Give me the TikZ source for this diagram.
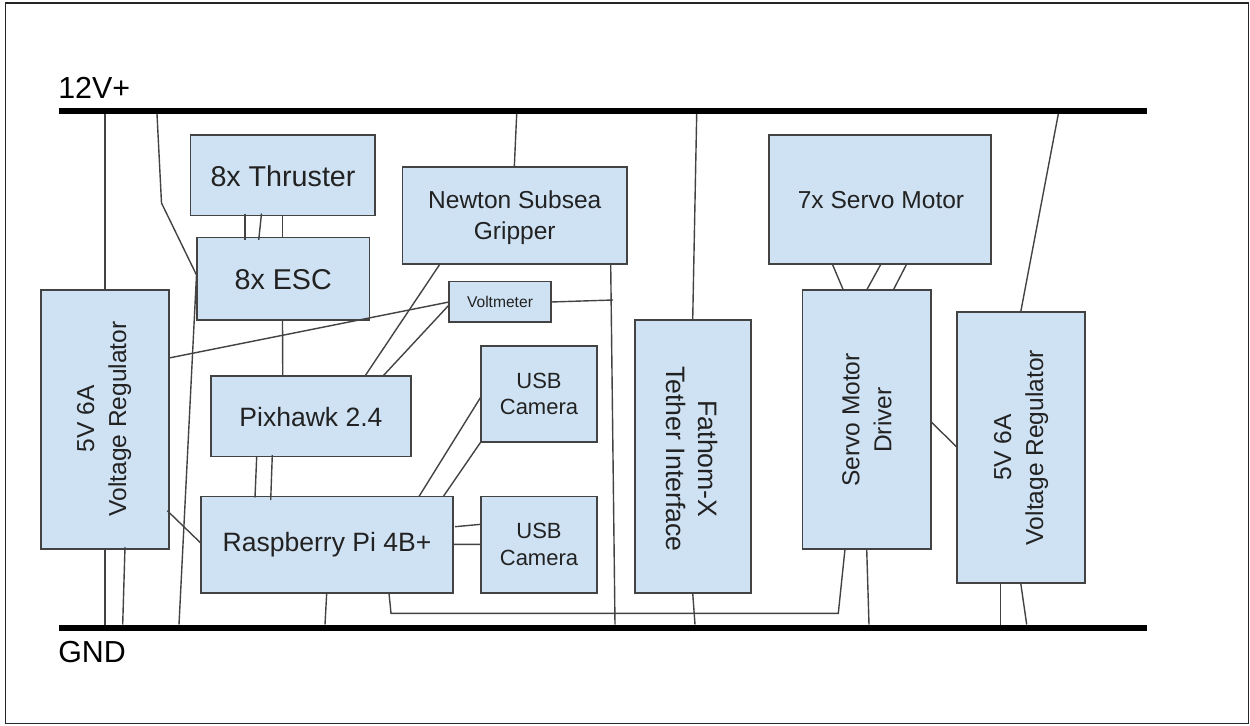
\documentclass[tikz,border=0pt]{standalone}
\usepackage{fontspec}
\setmainfont{Liberation Sans}
\usetikzlibrary{calc}
\definecolor{boxfill}{HTML}{CFE2F3}
\definecolor{edge}{HTML}{434343}
\definecolor{ink}{HTML}{222222}
\tikzset{
  bx/.style 2 args={draw=edge,fill=boxfill,line width=1.1pt,inner sep=0pt,outer sep=0pt,
    minimum width=#1*0.75pt,minimum height=#2*0.75pt,text=ink,align=center,font=\fontsize{18.4pt}{23pt}\selectfont},
  rail/.style 2 args={fill=black,inner sep=0pt,outer sep=0pt,minimum width=#1*0.75pt,minimum height=#2*0.75pt},
  wire/.style={draw=edge,line width=1.05pt},
  lab/.style={text=black,inner sep=0pt,font=\fontsize{22.8pt}{26pt}\selectfont},
  vtxt/.style={text=ink,align=center,inner sep=0pt,font=\fontsize{18.4pt}{24pt}\selectfont}
}
\begin{document}
\begin{tikzpicture}[x=0.75pt,y=-0.75pt]
\useasboundingbox (0,0) rectangle (1250,725);
\node[draw=black!85,line width=1.3pt,inner sep=0pt,outer sep=0pt,minimum width=1243*0.75pt,minimum height=720.5*0.75pt] (frame) at (627,363.25) {};
\node[rail={1088}{6}] (vp) at (603,111) {};
\node[rail={1088}{6}] (gnd) at (603,627.5) {};
\node[lab,anchor=west] (l12) at (58,88) {12V+};
\node[lab,anchor=west] (lgnd) at (58,652) {GND};

\node[bx={184.5}{80.5}] (thr) at (282.75,175.25) {};
\node[vtxt,font=\fontsize{21.5pt}{26pt}\selectfont] (thrtext) at (283,176.5) {8x Thruster};
\node[bx={172.5}{82.5}] (esc) at (283.25,278.75) {};
\node[vtxt,font=\fontsize{21.5pt}{26pt}\selectfont] (esctext) at (283.25,280) {8x ESC};
\node[bx={224.5}{97}] (grip) at (514.75,215.5) {};
\node[vtxt,font=\fontsize{18.4pt}{23pt}\selectfont] (griptext) at (514.75,217.5) {Newton Subsea\\Gripper};
\node[bx={102}{40.5},font=\fontsize{11.7pt}{14pt}\selectfont] (volt) at (500,301.75) {Voltmeter};
\node[bx={200}{80.5}] (pix) at (311,416.25) {};
\node[vtxt,font=\fontsize{19.9pt}{24pt}\selectfont] (pixtext) at (311,417.5) {Pixhawk 2.4};
\node[bx={252}{96.5}] (rpi) at (327,544.75) {};
\node[vtxt,font=\fontsize{19.9pt}{24pt}\selectfont] (rpitext) at (327,545) {Raspberry Pi 4B+};
\node[bx={116}{96},font=\fontsize{16.5pt}{20pt}\selectfont] (cam1) at (539,394) {USB\\Camera};
\node[bx={116}{96.5},font=\fontsize{16.5pt}{20pt}\selectfont] (cam2) at (539,544.75) {USB\\Camera};
\node[bx={116}{273}] (fat) at (693,456.5) {};
\node[vtxt,rotate=-90,font=\fontsize{20pt}{24pt}\selectfont] (fattext) at (692,459) {Fathom-X\\Tether Interface};
\node[bx={222}{129}] (srv) at (880,199.5) {};
\node[vtxt] (srvtext) at (881,200.5) {7x Servo Motor};
\node[bx={128.5}{259}] (drv) at (866.75,419.5) {};
\node[vtxt,rotate=90] (drvtext) at (867,420) {Servo Motor\\Driver};
\node[bx={128}{259}] (vr1) at (105,419.5) {};
\node[vtxt,rotate=90] (vr1text) at (104,419) {5V 6A\\Voltage Regulator};
\node[bx={128}{271}] (vr2) at (1021,447.5) {};
\node[vtxt,rotate=90] (vr2text) at (1021,447.5) {5V 6A\\Voltage Regulator};

% rails to blocks
\draw[wire] ($(vp.south west)+(46,0)$) -- ($(vr1.north west)+(64,0)$);
\coordinate (bend1) at (161.5,203);
\coordinate (bend2) at (196.5,275);
\draw[wire] ($(vp.south west)+(98,0)$) -- (bend1) -- (bend2) -- ($(gnd.north west)+(120,0)$);
\draw[wire] ($(vp.south west)+(457.7,0)$) -- ($(grip.north west)+(111.8,0)$);
\draw[wire] ($(vp.south west)+(637.7,0)$) -- ($(fat.north west)+(57.7,0)$);
\draw[wire] ($(vp.south west)+(999.3,0)$) -- ($(vr2.north west)+(63.7,0)$);
\draw[wire] ($(vr1.south west)+(64,0)$) -- ($(gnd.north west)+(46,0)$);
\draw[wire] ($(vr1.south west)+(84,-2)$) -- ($(gnd.north west)+(63.7,0)$);
\draw[wire] ($(rpi.south west)+(125.7,0)$) -- ($(gnd.north west)+(266,0)$);
\draw[wire] ($(grip.south west)+(208.2,0)$) -- ($(gnd.north west)+(556,0)$);
\draw[wire] ($(fat.south west)+(57.7,0)$) -- ($(gnd.north west)+(636,0)$);
\draw[wire] ($(drv.south west)+(64.2,0)$) -- ($(gnd.north west)+(810,0)$);
\draw[wire] ($(vr2.south west)+(43.5,0)$) -- ($(gnd.north west)+(941.5,0)$);
\draw[wire] ($(vr2.south west)+(63.7,0)$) -- ($(gnd.north west)+(967.7,0)$);
% thruster to ESC
\draw[wire] ($(thr.south west)+(54.5,-2)$) -- ($(esc.north west)+(48,2.5)$);
\draw[wire] ($(thr.south west)+(71,-2)$) -- ($(esc.north west)+(61.7,2.5)$);
\draw[wire] ($(thr.south west)+(92,0)$) -- ($(esc.north west)+(85.5,0)$);
% ESC to Pixhawk
\draw[wire] ($(esc.south west)+(85.5,0)$) -- ($(pix.north west)+(71.75,0)$);
% voltmeter
\draw[wire] ($(vr1.south east)+(0,-191)$) -- ($(volt.north west)+(0,20.5)$);
\draw[wire] ($(volt.north west)+(0,23.5)$) -- ($(pix.north east)+(-28,0)$);
\draw[wire] ($(grip.south west)+(37.5,0)$) -- ($(pix.north east)+(-46,0)$);
\coordinate (vtap) at (613,300);
\draw[wire] ($(volt.north east)+(0,20.5)$) -- (vtap);
% cameras
\draw[wire] ($(cam1.north west)+(0,50.7)$) -- ($(rpi.north east)+(-34,0)$);
\draw[wire] ($(cam1.south west)+(0,-0.3)$) -- ($(rpi.north east)+(-9.7,0)$);
\draw[wire] ($(rpi.south east)+(2,-66.3)$) -- ($(cam2.north west)+(0,27.8)$);
\draw[wire] ($(rpi.south east)+(0,-48.7)$) -- ($(cam2.north west)+(0,47.8)$);
% Pixhawk to Pi
\draw[wire] ($(pix.south west)+(45.7,0)$) -- ($(rpi.north west)+(54,1)$);
\draw[wire] ($(pix.south west)+(61.3,-1.5)$) -- ($(rpi.north west)+(69.7,3.5)$);
% regulator to Pi
\draw[wire] ($(vr1.south east)+(-1.7,-38.3)$) -- ($(rpi.south west)+(0,-49.7)$);
% long feed
\coordinate (lb1) at (391,613.3);
\coordinate (lb2) at (838.3,613.3);
\draw[wire] ($(rpi.south west)+(188,0)$) -- (lb1) -- (lb2) -- ($(drv.south west)+(42.5,0)$);
% servo
\draw[wire] ($(srv.south west)+(63.3,0)$) -- ($(drv.north west)+(40.8,0)$);
\draw[wire] ($(srv.south west)+(112,0)$) -- ($(drv.north west)+(64.2,0)$);
\draw[wire] ($(srv.south west)+(137.7,0)$) -- ($(drv.north west)+(90.8,0)$);
\draw[wire] ($(drv.north east)+(0,131.7)$) -- ($(vr2.north west)+(0,135.3)$);
\end{tikzpicture}
\end{document}
